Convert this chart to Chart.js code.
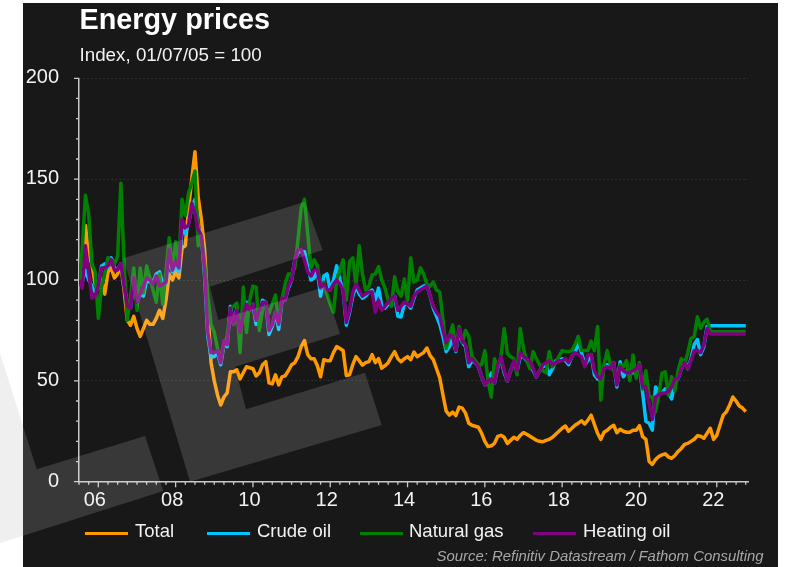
<!DOCTYPE html>
<html>
<head>
<meta charset="utf-8">
<title>Energy prices</title>
<script src="https://cdn.jsdelivr.net/npm/chart.js@4"></script>
<style>
  html, body { margin: 0; padding: 0; background: #fff; }
  body { position: relative; width: 792px; height: 567px; overflow: hidden; font-family: "Liberation Sans", Arial, sans-serif; }
  #panel { position: absolute; left: 23px; top: 3px; width: 755px; height: 564px; background: #181818; }
  #chart { position: absolute; left: 0; top: 0; }
  .txt { position: absolute; white-space: nowrap; color: #f2f2f2; }
  #title { left: 79.5px; top: 3px; font-size: 28.8px; line-height: 32px; font-weight: bold; color: #fff; }
  #subtitle { left: 79.5px; top: 43.6px; font-size: 18.8px; line-height: 22px; }
  #source { right: 28.5px; top: 547px; font-size: 14.9px; line-height: 18px; font-style: italic; color: #a6a6a6; }
  .swatch { position: absolute; top: 532px; width: 43px; height: 3px; }
  .legendText { top: 521.4px; font-size: 18.5px; line-height: 20px; }
</style>
</head>
<body>
<div id="panel"></div>
<canvas id="chart" width="792" height="567"></canvas>
<div class="txt" id="title">Energy prices</div>
<div class="txt" id="subtitle">Index, 01/07/05 = 100</div>
<div id="legend"></div>
<div class="txt" id="source">Source: Refinitiv Datastream / Fathom Consulting</div>

<script>
// monthly values from Jul 2005, one row per calendar year
const total = [
  100, 103, 127, 112, 108, 98,
  97, 100, 93, 104, 106, 101, 103, 107, 95, 80, 77.6, 82,
  76, 72, 76, 80, 78, 78, 81, 85, 81, 90, 103, 100,
  104, 101, 116, 117, 135, 150, 163.6, 141, 130, 115, 85, 59,
  50, 43, 38, 42, 44, 54.5, 54.5, 55.5, 51, 54, 57, 56.5,
  56, 52.4, 54, 58, 59.5, 49, 48.5, 53, 48, 52, 52.5, 55,
  58, 59, 62, 67, 70, 63, 61, 61, 57.5, 52, 60.5, 60,
  60, 64, 67, 66, 65, 52.6, 53, 58, 62, 60, 57.8, 59,
  59.5, 63, 59, 61, 56.3, 57.5, 59, 62, 64.5, 61, 59.5, 61,
  62, 60.5, 64.3, 62, 63, 64, 66.3, 62.5, 60.5, 56, 51.5, 43,
  35, 33, 34.5, 32.8, 37, 36.5, 34, 29, 28, 27.5, 27, 24,
  20, 17.4, 17.8, 19, 22.5, 23, 22, 19, 20.5, 22, 21, 23,
  24.3, 23.5, 22.5, 21.5, 20.5, 20, 19.8, 20.5, 21, 22, 23.5, 25,
  26.5, 27.6, 25, 26.5, 28, 29, 30.2, 28.6, 30.5, 33, 28.5, 24,
  21, 24.5, 25.5, 27, 28, 24.3, 26, 25, 24.5, 24.5, 25.5, 25.5,
  27.8, 22.3, 21, 10, 8.6, 11, 12.5, 13.3, 13.8, 12.3, 11.6, 13,
  15, 16.5, 18.5, 19, 20, 21, 22.8, 22.5, 21.5, 24, 26.5, 21,
  23, 28, 33, 34.7, 38, 42, 40, 37.5, 36.5, 34.7
];
const crudeOil = [
  100, 99, 105, 100, 97, 94,
  96, 107, 108, 106, 111, 106, 105, 108, 97, 88, 86, 99,
  89, 93, 92, 100, 99, 99, 103, 104, 98, 98, 112, 104,
  106, 104, 125, 123, 128, 136, 140, 126, 122, 102, 72, 62,
  62, 64, 58, 68, 67, 87, 78, 86, 74, 84, 89, 85,
  88, 78, 83, 90, 89, 73, 77, 84, 75.5, 90, 90, 96,
  100, 110, 114, 114, 114, 107, 100, 101, 105, 92, 102, 103,
  95, 100, 107, 100, 95, 77.6, 84, 92, 97, 93, 91, 92,
  94, 95, 90, 96, 87, 86, 88, 90, 92, 82, 81.7, 88,
  88, 86, 91, 95, 96, 97, 97.5, 92, 86, 82, 78, 72,
  64.5, 67, 71, 64.5, 75, 69, 67, 57, 60, 59, 57, 52,
  48, 50, 53.8, 49, 57, 61, 54, 50, 55, 59, 55, 62,
  62, 60, 59, 55, 52, 55, 57, 58, 53, 56, 60, 60,
  61, 60, 58, 62, 64, 69, 64, 58, 60, 63, 53, 51,
  50, 57, 58, 57, 59, 47, 59.5, 52, 55, 54, 54, 55,
  58, 44, 30, 29, 25.6, 47, 44, 44, 46, 44, 41, 50,
  51, 56, 60, 56, 61, 68, 70.5, 63, 67, 77, 77.3, 77.3,
  77.3, 77.3, 77.3, 77.3, 77.3, 77.3, 77.3, 77.3, 77.3, 77.3
];
const naturalGas = [
  98, 115, 142, 133, 108, 104,
  81, 96.6, 103, 111, 110, 108, 112, 148, 108, 80, 92, 106,
  85, 106, 93.6, 107, 101, 95, 89, 103, 88, 104, 121, 105,
  119, 108, 140, 132, 143, 148, 154, 117, 122, 108, 92, 78,
  74, 66, 61, 68, 72, 86, 87, 88.6, 64, 96.5, 74, 90,
  97, 96.5, 75, 85, 87, 83.5, 88, 92.5, 78.6, 90, 98, 103,
  103, 106, 120, 136, 140, 123, 106, 110, 107, 97, 99, 93,
  88, 84, 100, 105, 110, 90, 109, 111, 97, 117, 103, 95,
  97, 102.5, 103, 106.6, 100, 96, 90, 87, 101.6, 94, 92, 100.5,
  90, 111, 99, 100, 106, 103, 98, 97, 99, 95, 94, 80,
  66, 72, 77.7, 65, 77, 69, 75, 72, 62, 60, 58, 58,
  65, 49.6, 42, 61, 56, 62, 76, 63.5, 62, 61, 53, 76,
  66, 60, 56, 64.5, 61, 58, 55, 54, 64.5, 57, 59, 62,
  65, 64.5, 64.5, 65, 68, 72, 65, 65, 65, 69.7, 65, 77,
  40.5, 58, 65, 58, 55, 52, 58, 57, 60, 50, 62.8, 51.4,
  59, 46, 55, 42, 42, 34.7, 43, 53.8, 54.5, 43, 52, 45,
  55, 61, 58, 64, 71, 72, 81.8, 76, 79, 80.6, 74.4, 74.4,
  74.4, 74.4, 74.4, 74.4, 74.4, 74.4, 74.4, 74.4, 74.4, 74.4
];
const heatingOil = [
  100, 96, 117, 104, 91, 92,
  97, 106, 106, 107, 110, 105, 105, 108, 97, 87, 86, 101,
  89, 93, 97, 101, 100, 98, 102, 97, 98, 99, 115, 105,
  109, 106, 130, 126, 127, 138, 133, 125, 122, 104, 74, 64,
  64, 65, 59, 70, 68, 86, 78, 85, 74, 83, 88, 85,
  88, 80, 85, 89, 89, 75, 78, 84, 78, 91, 90, 97,
  100, 110, 115, 115, 110, 104, 102, 105, 105, 96, 98, 95,
  95, 98, 100, 98, 95, 79, 85, 94, 98, 95, 92, 93,
  94, 94, 84, 90, 85, 87, 89, 91, 92, 85, 87, 89,
  88, 87, 92, 94, 95, 96, 97, 92, 87, 84, 82, 75,
  69, 73, 72, 65, 76, 70, 68, 59, 61, 59, 57, 52,
  48, 50, 51, 49, 58, 62, 55, 50, 55, 60, 55, 64,
  62, 61, 60, 56, 52, 55, 58, 59, 60, 58, 59, 60,
  60, 61, 59, 62, 64, 63, 62, 57, 63, 63, 55, 52,
  51, 56, 57, 56, 59, 48, 57, 55, 54, 54, 55, 56,
  58, 47, 47, 39, 31, 42, 43, 44, 44, 45, 47, 51,
  51, 56, 59, 56, 60, 65, 65, 64, 68, 76, 73.2, 73.2,
  73.2, 73.2, 73.2, 73.2, 73.2, 73.2, 73.2, 73.2, 73.2, 73.2
];
const seriesNames = ["Total", "Crude oil", "Natural gas", "Heating oil"];
const seriesColors = ["#ff9900", "#00c3ff", "#008000", "#800080"];
const seriesValues = [total, crudeOil, naturalGas, heatingOil];
const yLabels = { 0: "0", 50: "50", 100: "100", 150: "150", 200: "200" };
const xLabels = { 6: "06", 30: "08", 54: "10", 78: "12", 102: "14", 126: "16", 150: "18", 174: "20", 198: "22" };

// legend boxes sit where the original has them
const legendX = [[85, 135], [207, 257], [360, 409], [533, 583]];
seriesNames.forEach((name, i) => {
  const legend = document.getElementById("legend");
  const swatch = document.createElement("div");
  swatch.className = "swatch";
  swatch.style.left = legendX[i][0] + "px";
  swatch.style.background = seriesColors[i];
  legend.appendChild(swatch);
  const text = document.createElement("div");
  text.className = "txt legendText";
  text.style.left = legendX[i][1] + "px";
  text.textContent = name;
  legend.appendChild(text);
});

const AXIS_COLOR = "#c9c9c9";

// two tick lengths, Chart.js only has one
const axisTicks = {
  id: "axisTicks",
  afterDatasetsDraw(chart) {
    const { ctx, scales: { x, y } } = chart;
    ctx.save();
    ctx.strokeStyle = AXIS_COLOR;
    ctx.lineWidth = 1.3;
    ctx.beginPath();
    x.ticks.forEach((t) => {
      const px = x.getPixelForValue(t.value);
      ctx.moveTo(px, y.bottom);
      ctx.lineTo(px, y.bottom + (xLabels[t.value] ? 5.5 : 3));
    });
    y.ticks.forEach((t) => {
      const py = y.getPixelForValue(t.value);
      ctx.moveTo(x.left, py);
      ctx.lineTo(x.left - (yLabels[t.value] ? 5 : 3), py);
    });
    ctx.stroke();
    ctx.restore();
  },
};

// the grey logo lies over everything, a little lighter than the panel
const mainShape = [[123.3, 258.3], [305, 201.7], [322.7, 250], [210, 286.7], [218.3, 320], [325, 286.7], [340, 334], [235, 366.7], [246, 409.3], [365, 372.7], [381.7, 425], [190, 481.7]];
const leftShape = [[0, 353], [36.7, 469.3], [145, 436], [163.3, 491], [0, 543]];
const watermark = {
  id: "watermark",
  afterDraw(chart) {
    const ctx = chart.ctx;
    const trace = (pts) => {
      ctx.beginPath();
      pts.forEach((p, i) => (i ? ctx.lineTo(p[0], p[1]) : ctx.moveTo(p[0], p[1])));
      ctx.closePath();
    };
    ctx.save();
    ctx.beginPath();
    ctx.rect(23, 3, 755, 564);
    ctx.clip();
    ctx.fillStyle = "rgba(255,255,255,0.14)";
    trace(mainShape);
    ctx.fill();
    trace(leftShape);
    ctx.fill();
    ctx.restore();

    ctx.save();
    ctx.beginPath();
    ctx.rect(0, 0, 23, 567);
    ctx.clip();
    ctx.fillStyle = "#efefef";
    trace(leftShape);
    ctx.fill();
    ctx.restore();
  },
};

new Chart(document.getElementById("chart"), {
  type: "line",
  data: {
    datasets: seriesNames.map((name, i) => ({
      label: name,
      data: seriesValues[i].map((v, month) => ({ x: month, y: v })),
      borderColor: seriesColors[i],
      borderWidth: 3.5,
      borderJoinStyle: "round",
      pointRadius: 0,
      tension: 0,
      order: seriesNames.length - i,
    })),
  },
  options: {
    responsive: false,
    animation: false,
    layout: { padding: { left: 0, top: 78.3, right: 44, bottom: 0 } },
    plugins: { legend: { display: false }, title: { display: false }, tooltip: { enabled: false } },
    scales: {
      x: {
        type: "linear",
        min: 0,
        max: 207.7,
        afterFit: (scale) => { scale.height = 85.3; },
        afterBuildTicks: (scale) => {
          const ticks = [];
          for (let m = 0; m <= 207; m += 3) ticks.push({ value: m });
          scale.ticks = ticks;
        },
        grid: { drawOnChartArea: false, drawTicks: false },
        border: { color: AXIS_COLOR, width: 1.5 },
        ticks: {
          autoSkip: false,
          maxRotation: 0,
          padding: 7,
          labelOffset: -3.5,
          color: "#f2f2f2",
          font: { family: "'Liberation Sans', Arial, sans-serif", size: 20 },
          callback: (v) => xLabels[v] || "",
        },
      },
      y: {
        min: 0,
        max: 200,
        afterFit: (scale) => { scale.width = 79; },
        grid: {
          drawTicks: false,
          lineWidth: 1,
          color: (c) => (yLabels[c.tick.value] ? "rgba(85,105,85,0.4)" : "transparent"),
        },
        border: { color: AXIS_COLOR, width: 1.5, dash: [1.5, 2.5] },
        ticks: {
          stepSize: 10,
          autoSkip: false,
          padding: 20,
          labelOffset: -0.5,
          color: "#f2f2f2",
          font: { family: "'Liberation Sans', Arial, sans-serif", size: 20 },
          callback: (v) => yLabels[v] || "",
        },
      },
    },
  },
  plugins: [axisTicks, watermark],
});
</script>
</body>
</html>
